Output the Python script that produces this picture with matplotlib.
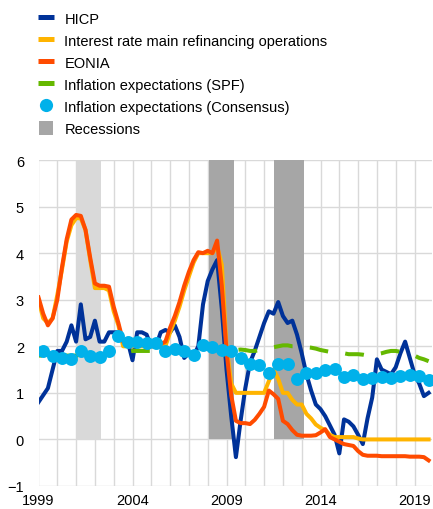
import numpy as np
import matplotlib
matplotlib.use('Agg')
import matplotlib.pyplot as plt
from matplotlib.lines import Line2D

plt.rcParams['font.family'] = ['Liberation Sans', 'DejaVu Sans']
plt.rcParams['lines.scale_dashes'] = False

# ---------------- data ----------------
quarters = 1999 + 0.25 * np.arange(84)

hicp = [0.8, 0.95, 1.1, 1.5,
        1.9, 1.9, 2.1, 2.45,
        2.1, 2.9, 2.15, 2.2,
        2.55, 2.1, 2.1, 2.3,
        2.3, 2.3, 2.1, 2.1,
        1.7, 2.3, 2.3, 2.25,
        2.0, 2.0, 2.3, 2.35,
        2.3, 2.45, 2.2, 1.75,
        1.85, 1.8, 2.0, 2.9,
        3.4, 3.65, 3.85, 2.8,
        1.5, 0.5, -0.38, 0.4,
        1.1, 1.65, 1.9, 2.2,
        2.5, 2.75, 2.7, 2.95,
        2.65, 2.5, 2.55, 2.25,
        1.85, 1.4, 1.05, 0.75,
        0.65, 0.5, 0.3, 0.1,
        -0.3, 0.43, 0.38, 0.28,
        0.1, -0.1, 0.45, 0.9,
        1.72, 1.5, 1.45, 1.4,
        1.55, 1.85, 2.1, 1.75,
        1.4, 1.2, 0.93, 1.0]

mro = [3.0, 2.6, 2.5, 2.6,
       3.1, 3.65, 4.25, 4.6,
       4.75, 4.75, 4.5, 3.85,
       3.25, 3.25, 3.25, 3.2,
       2.75, 2.45, 2.0, 2.0,
       2.0, 2.0, 2.0, 2.0,
       2.0, 2.0, 2.0, 2.0,
       2.3, 2.55, 2.85, 3.2,
       3.5, 3.8, 4.0, 4.0,
       4.0, 4.0, 4.15, 3.75,
       2.0, 1.2, 1.0, 1.0,
       1.0, 1.0, 1.0, 1.0,
       1.0, 1.25, 1.5, 1.3,
       1.0, 1.0, 0.85, 0.75,
       0.75, 0.55, 0.45, 0.32,
       0.25, 0.2, 0.1, 0.05,
       0.05, 0.05, 0.05, 0.05,
       0.02, 0.0, 0.0, 0.0,
       0.0, 0.0, 0.0, 0.0,
       0.0, 0.0, 0.0, 0.0,
       0.0, 0.0, 0.0, 0.0]

eonia = [3.05, 2.7, 2.45, 2.6,
         3.0, 3.7, 4.3, 4.72,
         4.82, 4.8, 4.5, 3.9,
         3.35, 3.3, 3.3, 3.28,
         2.85, 2.5, 2.1, 2.03,
         2.03, 2.05, 2.05, 2.05,
         2.05, 2.05, 2.05, 2.1,
         2.4, 2.65, 2.95, 3.3,
         3.6, 3.85, 4.02, 4.0,
         4.05, 4.0, 4.27, 3.3,
         1.9, 0.95, 0.4, 0.35,
         0.35, 0.33, 0.42, 0.55,
         0.7, 1.05, 0.97, 0.87,
         0.4, 0.33, 0.2, 0.1,
         0.08, 0.08, 0.08, 0.09,
         0.15, 0.22, 0.05, 0.0,
         -0.05, -0.1, -0.12, -0.14,
         -0.25, -0.33, -0.35, -0.35,
         -0.35, -0.36, -0.36, -0.36,
         -0.36, -0.36, -0.36, -0.37,
         -0.37, -0.37, -0.38, -0.45]

spf = [1.8, 1.8, 1.8, 1.8,
       1.8, 1.8, 1.8, 1.8,
       1.8, 1.8, 1.8, 1.8,
       1.8, 1.8, 1.82, 1.85,
       1.87, 1.87, 1.87, 1.88,
       1.9, 1.9, 1.9, 1.9,
       1.9, 1.9, 1.88, 1.88,
       1.9, 1.9, 1.9, 1.9,
       1.9, 1.92, 1.95, 1.95,
       1.95, 1.95, 1.95, 1.95,
       1.92, 1.9, 1.92, 1.93,
       1.92, 1.9, 1.9, 1.92,
       1.95, 1.97, 1.98, 2.0,
       2.02, 2.02, 2.0, 2.0,
       2.0, 1.98, 1.97, 1.95,
       1.92, 1.9, 1.88, 1.85,
       1.85, 1.85, 1.83, 1.83,
       1.83, 1.82, 1.8, 1.8,
       1.83, 1.85, 1.88, 1.9,
       1.9, 1.88, 1.87, 1.85,
       1.8, 1.75, 1.72, 1.68]

consensus_dates = 1999.25 + 0.5 * np.arange(42)
consensus = [1.9, 1.8, 1.75, 1.72, 1.9, 1.8, 1.78, 1.9, 2.22, 2.1,
             2.1, 2.08, 2.08, 1.9, 1.95, 1.9, 1.82, 2.02, 1.98, 1.92,
             1.9, 1.75, 1.62, 1.6, 1.43, 1.63, 1.62, 1.3, 1.42, 1.43,
             1.5, 1.52, 1.35, 1.38, 1.3, 1.32, 1.33, 1.32, 1.36, 1.38,
             1.36, 1.27]

recession_start = [2001.0, 2008.05, 2011.52]
recession_end = [2002.3, 2009.38, 2013.12]
recession_height = 6

year_ticks = [1999, 2004, 2009, 2014, 2019]
y_ticks = [-1, 0, 1, 2, 3, 4, 5, 6]

labels = ['HICP', 'Interest rate main refinancing operations', 'EONIA',
          'Inflation expectations (SPF)', 'Inflation expectations (Consensus)',
          'Recessions']

# ---------------- style ----------------
C_HICP = '#003299'
C_MRO = '#ffb400'
C_EONIA = '#ff4b00'
C_SPF = '#65b800'
C_CONS = '#00b1ea'
C_REC = '#a6a6a6'
C_REC_LIGHT = '#d9d9d9'
GRID = '#d9d9d9'
FS = 10.5

fig = plt.figure(figsize=(4.33, 5.10), dpi=100)
ax = fig.add_axes([38.5 / 433, 1 - 487 / 510, (432 - 38.5) / 433, (487 - 161) / 510])

rec_colors = [C_REC_LIGHT, C_REC, C_REC]
for s, e, c in zip(recession_start, recession_end, rec_colors):
    ax.bar(s, recession_height, width=e - s, bottom=0, align='edge',
           color=c, linewidth=0, zorder=1)

lw = 2.9
ax.plot(quarters, hicp, color=C_HICP, lw=lw, zorder=3, solid_joinstyle='round')
ax.plot(quarters, mro, color=C_MRO, lw=lw, zorder=4, solid_joinstyle='round')
ax.plot(quarters, eonia, color=C_EONIA, lw=lw, zorder=5, solid_joinstyle='round')
ax.plot(quarters, spf, color=C_SPF, lw=lw, zorder=6, ls=(11, (13.5, 12.5)),
        dash_capstyle='butt')
ax.plot(consensus_dates, consensus, ls='none', marker='o', ms=9.3,
        color=C_CONS, markeredgewidth=0, zorder=7)

ax.set_xlim(1999, 2019.93)
ax.set_ylim(-1, 6)
ax.set_xticks(year_ticks)
ax.set_xticklabels([str(y) for y in year_ticks])
ax.set_xticks(np.arange(1999, 2020), minor=True)
ax.set_yticks(y_ticks)
ax.grid(True, which='both', axis='x', color=GRID, lw=1.0, zorder=0)
ax.grid(True, which='major', axis='y', color=GRID, lw=1.0, zorder=0)
ax.set_axisbelow(True)
for sp in ax.spines.values():
    sp.set_visible(False)
ax.tick_params(axis='both', which='both', length=0, labelsize=FS, colors='#000000')
ax.tick_params(axis='y', pad=10.5)
ax.tick_params(axis='x', pad=5)

handles = [Line2D([], [], color=C_HICP, lw=3.6, solid_capstyle='butt'),
           Line2D([], [], color=C_MRO, lw=3.6, solid_capstyle='butt'),
           Line2D([], [], color=C_EONIA, lw=3.6, solid_capstyle='butt'),
           Line2D([], [], color=C_SPF, lw=3.6, solid_capstyle='butt'),
           Line2D([], [], color=C_CONS, marker='o', ms=9.5, ls='none', markeredgewidth=0),
           Line2D([], [], color=C_REC, marker='s', ms=9.5, ls='none', markeredgewidth=0)]
fig.legend(handles, labels, loc='upper left',
           bbox_to_anchor=(38 / 433, 1 - 12.5 / 510), frameon=False,
           fontsize=FS, handlelength=1.1, handletextpad=0.7,
           labelspacing=0.55, borderpad=0, borderaxespad=0)

fig.savefig('out.png', dpi=100)
